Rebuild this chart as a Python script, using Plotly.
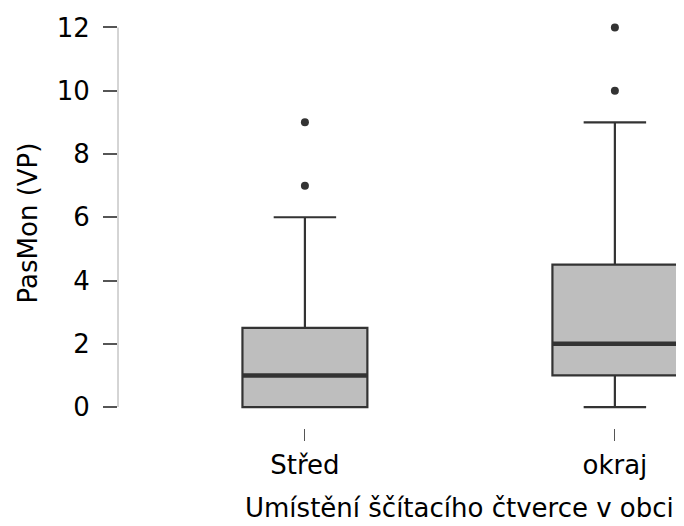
import plotly.graph_objects as go

categories = ["Střed", "okraj"]
positions = [1, 2]
q1 = [0, 1]
median = [1, 2]
q3 = [2.5, 4.5]
lower = [0, 0]
upper = [6, 9]
outliers = [[7, 9], [10, 12]]
yticks = [0, 2, 4, 6, 8, 10, 12]
x_title = "Umístění ščítacího čtverce v obci"
y_title = "PasMon (VP)"

BOXW = 0.403
DARK = "#333333"
FONT = "DejaVu Sans"
FS = 26

fig = go.Figure()
fig.add_trace(go.Box(
    x=positions, q1=q1, median=median, q3=q3,
    lowerfence=lower, upperfence=upper,
    width=BOXW, whiskerwidth=0.5,
    fillcolor="#bebebe", line=dict(color=DARK, width=2.2),
    boxpoints=False, showlegend=False, hoverinfo="skip",
))

mx, my = [], []
for p, m in zip(positions, median):
    mx += [p - BOXW / 2, p + BOXW / 2, None]
    my += [m, m, None]
fig.add_trace(go.Scatter(x=mx, y=my, mode="lines",
                         line=dict(color=DARK, width=4.5),
                         showlegend=False, hoverinfo="skip"))

ox, oy = [], []
for p, outs in zip(positions, outliers):
    for o in outs:
        ox.append(p)
        oy.append(o)
fig.add_trace(go.Scatter(x=ox, y=oy, mode="markers",
                         marker=dict(color=DARK, size=8),
                         showlegend=False, hoverinfo="skip"))

# y-axis line from min to max tick
fig.add_shape(type="line", xref="paper", yref="y", x0=0, x1=0,
              y0=yticks[0], y1=yticks[-1],
              line=dict(color="#aaaaaa", width=1))

# x-axis title centred between the categories
fig.add_annotation(text=x_title, xref="x", yref="paper",
                   x=sum(positions) / len(positions), y=-0.196,
                   xanchor="center", yanchor="middle", showarrow=False,
                   font=dict(size=FS, family=FONT, color="black"))

fig.update_layout(
    width=676, height=518,
    margin=dict(l=110, r=0, t=9.5, b=98),
    plot_bgcolor="white", paper_bgcolor="white",
    font=dict(family=FONT, color="black", size=FS),
    xaxis=dict(range=[0.397, 2.223], tickvals=positions, ticktext=categories,
               ticks="outside", ticklen=12, tickwidth=1, tickcolor="#555555",
               showline=False, showgrid=False, zeroline=False,
               tickfont=dict(size=FS), ticklabelstandoff=2),
    yaxis=dict(range=[-0.663, 12.3], tickvals=yticks,
               ticks="outside", ticklen=14, tickwidth=1.5, tickcolor="#555555",
               showline=False, showgrid=False, zeroline=False,
               tickfont=dict(size=FS), ticklabelstandoff=8,
               title=dict(text=y_title, font=dict(size=FS), standoff=11)),
)

fig.write_html("out.html")
